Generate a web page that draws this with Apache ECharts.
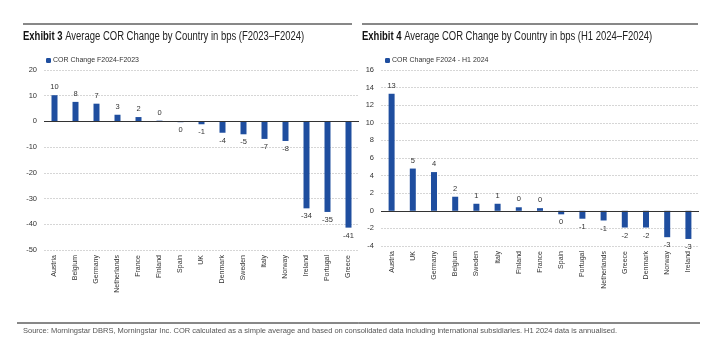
<!DOCTYPE html>
<html>
<head>
<meta charset="utf-8">
<script src="https://cdn.jsdelivr.net/npm/echarts@6/dist/echarts.min.js"></script>
<style>
html, body { margin: 0; padding: 0; background: #fff; }
#main { width: 714px; height: 351px; }
</style>
</head>
<body>
<div id="main"></div>
<script>
/** ---------------- data ---------------- */
var leftCountries = ['Austria', 'Belgium', 'Germany', 'Netherlands', 'France', 'Finland', 'Spain', 'UK',
    'Denmark', 'Sweden', 'Italy', 'Norway', 'Ireland', 'Portugal', 'Greece'];
var leftValues = [10.2, 7.6, 6.9, 2.6, 1.7, 0.3, -0.3, -1.1, -4.4, -5.0, -6.8, -7.6, -33.8, -35.2, -41.3];

var rightCountries = ['Austria', 'UK', 'Germany', 'Belgium', 'Sweden', 'Italy', 'Finland', 'France',
    'Spain', 'Portugal', 'Netherlands', 'Greece', 'Denmark', 'Norway', 'Ireland'];
var rightValues = [13.3, 4.8, 4.4, 1.6, 0.8, 0.8, 0.4, 0.3, -0.4, -0.9, -1.1, -1.9, -1.9, -3.0, -3.2];

var leftName = 'COR Change F2024-F2023';
var rightName = 'COR Change F2024 - H1 2024';
var leftTicks = { min: -50, max: 20, interval: 10 };
var rightTicks = { min: -4, max: 16, interval: 2 };

var FONT = "'Liberation Sans', Arial, sans-serif";
var BLUE = '#1f4e9f';

$init();

function $init() {
    var chart = echarts.init(document.getElementById('main'), null, { renderer: 'canvas' });

    // labels above positive bars, below negative ones
    function barData(values) {
        var arr = [];
        for (var i = 0; i < values.length; i++) {
            arr.push({
                value: values[i],
                label: { position: values[i] < 0 ? 'bottom' : 'top' }
            });
        }
        return arr;
    }

    function xAxisOf(idx, cats) {
        return {
            type: 'category',
            gridIndex: idx,
            data: cats,
            axisLine: { show: false },
            axisTick: { show: false },
            axisLabel: {
                rotate: 90,
                interval: 0,
                margin: 5,
                fontFamily: FONT,
                fontSize: 7,
                color: '#333'
            }
        };
    }

    function yAxisOf(idx, t) {
        return {
            type: 'value',
            gridIndex: idx,
            min: t.min,
            max: t.max,
            interval: t.interval,
            axisLine: { show: false },
            axisTick: { show: false },
            axisLabel: { fontFamily: FONT, fontSize: 7.5, color: '#333', margin: 7 },
            splitLine: { lineStyle: { color: '#d6d6d6', type: [2, 1], width: 1 } }
        };
    }

    function seriesOf(idx, name, values) {
        return {
            type: 'bar',
            name: name,
            xAxisIndex: idx,
            yAxisIndex: idx,
            barWidth: 6,
            itemStyle: { color: BLUE },
            data: barData(values),
            label: {
                show: true,
                distance: 4,
                fontFamily: FONT,
                fontSize: 7.5,
                color: '#333',
                formatter: function (p) { return String(Math.round(p.value)); }
            },
            markLine: {
                silent: true,
                symbol: 'none',
                label: { show: false },
                lineStyle: { color: '#333', type: 'solid', width: 1 },
                data: [{ yAxis: 0 }]
            }
        };
    }

    // condensed look: the narrow face is not installed, so squeeze horizontally
    function titleText(x, num, rest) {
        return {
            type: 'text',
            x: x,
            y: 31,
            scaleX: 0.79,
            style: {
                text: '{b|Exhibit ' + num + '} ' + rest,
                rich: { b: { fontWeight: 'bold', fontFamily: FONT, fontSize: 12, fill: '#111' } },
                fontFamily: FONT,
                fontSize: 12,
                fill: '#222'
            }
        };
    }

    var option = {
        animation: false,
        backgroundColor: '#fff',
        legend: [
            {
                data: [leftName], left: 41, top: 52,
                itemWidth: 5, itemHeight: 5, itemGap: 2,
                textStyle: { fontFamily: FONT, fontSize: 7, color: '#333', padding: [0, 0, 0, -3] }
            },
            {
                data: [rightName], left: 380, top: 52,
                itemWidth: 5, itemHeight: 5, itemGap: 2,
                textStyle: { fontFamily: FONT, fontSize: 7, color: '#333', padding: [0, 0, 0, -3] }
            }
        ],
        grid: [
            { left: 44, width: 315, top: 70, height: 180, containLabel: false },
            { left: 381, width: 318, top: 70, height: 176, containLabel: false }
        ],
        xAxis: [xAxisOf(0, leftCountries), xAxisOf(1, rightCountries)],
        yAxis: [yAxisOf(0, leftTicks), yAxisOf(1, rightTicks)],
        series: [seriesOf(0, leftName, leftValues), seriesOf(1, rightName, rightValues)],
        graphic: [
            { type: 'line', shape: { x1: 23, y1: 24, x2: 352, y2: 24 }, style: { stroke: '#111', lineWidth: 1 } },
            { type: 'line', shape: { x1: 362, y1: 24, x2: 698, y2: 24 }, style: { stroke: '#111', lineWidth: 1 } },
            titleText(23, 3, 'Average COR Change by Country in bps (F2023\u2013F2024)'),
            titleText(362, 4, 'Average COR Change by Country in bps (H1 2024\u2013F2024)'),
            { type: 'line', shape: { x1: 17, y1: 323, x2: 700, y2: 323 }, style: { stroke: '#111', lineWidth: 1 } },
            {
                type: 'text', x: 23, y: 327,
                style: {
                    text: 'Source: Morningstar DBRS, Morningstar Inc. COR calculated as a simple average and based on consolidated data including international subsidiaries. H1 2024 data is annualised.',
                    fontFamily: FONT, fontSize: 7.5, fill: '#555'
                }
            }
        ]
    };
    chart.setOption(option);
}
</script>
</body>
</html>
